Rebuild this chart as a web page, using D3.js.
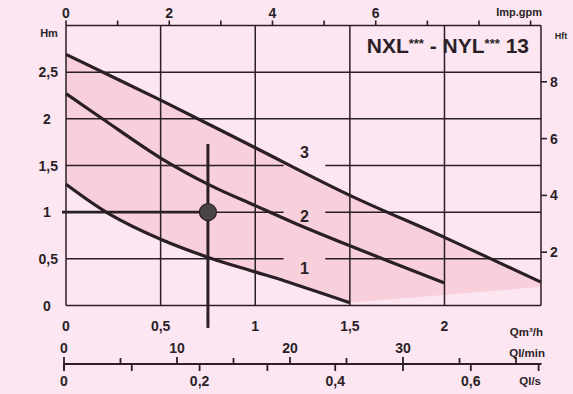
<!DOCTYPE html>
<html>
<head>
<meta charset="utf-8">
<script src="https://cdn.jsdelivr.net/npm/d3@7"></script>
<style>
  html, body { margin: 0; padding: 0; background: #fbe6f1; }
  svg { display: block; }
  text { font-family: "Liberation Sans", Arial, sans-serif; font-weight: bold; fill: #2b1f27; }
</style>
</head>
<body>
<svg id="chart" width="573" height="394"></svg>
<script>
// pump curves, H (m) against Q (m3/h)
const speed3Q = [0, 0.5, 1.0, 1.5, 2.0, 2.51]
const speed3H = [2.69, 2.2, 1.69, 1.18, 0.73, 0.25]
const speed2Q = [0, 0.2, 0.5, 0.76, 1.0, 1.2, 1.5, 2.0]
const speed2H = [2.27, 1.99, 1.58, 1.29, 1.07, 0.89, 0.64, 0.24]
const speed1Q = [0, 0.23, 0.5, 0.76, 1.0, 1.16, 1.5]
const speed1H = [1.30, 0.98, 0.71, 0.51, 0.36, 0.26, 0.03]
// lower edge of the shaded zone right of speed 1
const bandEndQ = [1.5, 2.51]
const bandEndH = [0.03, 0.2]

const speedNames = ['1', '2', '3']
const labelQ = 1.26
const labelH = [0.40, 0.96, 1.64]

// duty point
const dutyQ = 0.75
const dutyH = 1.0

const flowTicks = [0, 0.5, 1, 1.5, 2]
const flowLabels = ['0', '0,5', '1', '1,5', '2']
const headTicks = [0, 0.5, 1, 1.5, 2, 2.5]
const headLabels = ['0', '0,5', '1', '1,5', '2', '2,5']
const gpmTicks = [0, 1, 2, 3, 4, 5, 6, 7, 8, 9]
const gpmLabels = [0, 2, 4, 6]
const ftTicks = [2, 4, 6, 8]
const lpmTicks = [0, 5, 10, 15, 20, 25, 30, 35, 40]
const lpmLabels = [0, 10, 20, 30]
const lpsTicks = [0, 0.1, 0.2, 0.3, 0.4, 0.5, 0.6, 0.7]
const lpsLabels = ['0', '0,2', '0,4', '0,6']
const lpsLabelValues = [0, 0.2, 0.4, 0.6]

const title = 'NXL*** - NYL*** 13'

const M3H_TO_GPM = 3.666
const INK = '#2b1f27'

const svg = d3.select('#chart')
svg.append('rect').attr('width', 573).attr('height', 394).attr('fill', '#fbe6f1')

const qMax = 2.51
const x = d3.scaleLinear().domain([0, qMax]).range([66, 541])
const y = d3.scaleLinear().domain([0, 3]).range([305.5, 25.5])
const xGpm = d3.scaleLinear().domain([0, qMax * M3H_TO_GPM]).range([66, 541])
const yFt = d3.scaleLinear().domain([0, 10]).range([309, 25])
const xLpm = d3.scaleLinear().domain([0, 10]).range([64, 177])

const pts = (qs, hs) => qs.map((q, i) => [q, hs[i]])
const line = d3.line().x(d => x(d[0])).y(d => y(d[1])).curve(d3.curveCatmullRom.alpha(0.5))
const lineLin = d3.line().x(d => x(d[0])).y(d => y(d[1]))

/* --------- shaded zone ---------*/
const upper = pts(speed3Q, speed3H)
const lower = pts(speed1Q, speed1H)
const tail = pts(bandEndQ, bandEndH)
const zone = line(upper) + 'L' + lineLin(tail.slice().reverse()).slice(1) + 'L' + line(lower.slice().reverse()).slice(1) + 'Z'
svg.append('path').attr('d', zone).attr('fill', '#f7d0dc')

/* --------- grid ---------*/
const grid = svg.append('g').attr('stroke', INK).attr('stroke-width', 1.5)
flowTicks.concat([qMax]).forEach(q => {
  grid.append('line').attr('x1', x(q)).attr('x2', x(q)).attr('y1', y(0)).attr('y2', y(3))
})
const gapFrom = 1.15, gapTo = 1.37
headTicks.concat([3]).forEach(h => {
  if (h > 0 && h < 2) {
    grid.append('line').attr('x1', x(0)).attr('x2', x(gapFrom)).attr('y1', y(h)).attr('y2', y(h))
    grid.append('line').attr('x1', x(gapTo)).attr('x2', x(qMax)).attr('y1', y(h)).attr('y2', y(h))
  } else {
    grid.append('line').attr('x1', x(0)).attr('x2', x(qMax)).attr('y1', y(h)).attr('y2', y(h))
  }
})

/* --------- curves ---------*/
const curves = [pts(speed1Q, speed1H), pts(speed2Q, speed2H), pts(speed3Q, speed3H)]
svg.append('g').selectAll('path').data(curves).join('path')
  .attr('d', line)
  .attr('fill', 'none')
  .attr('stroke', INK)
  .attr('stroke-width', 3.2)

svg.append('g').selectAll('text').data(speedNames).join('text')
  .attr('x', x(labelQ))
  .attr('y', (d, i) => y(labelH[i]))
  .attr('dy', '0.36em')
  .attr('text-anchor', 'middle')
  .attr('font-size', 16)
  .text(d => d)

/* --------- duty point ---------*/
svg.append('line').attr('x1', 62).attr('x2', x(dutyQ)).attr('y1', y(dutyH)).attr('y2', y(dutyH))
  .attr('stroke', INK).attr('stroke-width', 2.6)
svg.append('line').attr('x1', x(dutyQ)).attr('x2', x(dutyQ)).attr('y1', y(1.73)).attr('y2', y(-0.24))
  .attr('stroke', INK).attr('stroke-width', 3)
svg.append('circle').attr('cx', x(dutyQ)).attr('cy', y(dutyH)).attr('r', 8.5)
  .attr('fill', '#4a4347').attr('stroke', INK).attr('stroke-width', 1.2)

/* --------- left axis (m) ---------*/
svg.append('g').selectAll('text').data(headTicks).join('text')
  .attr('x', d => Number.isInteger(d) ? 47 : 58)
  .attr('y', d => y(d))
  .attr('dy', '0.36em')
  .attr('text-anchor', d => Number.isInteger(d) ? 'middle' : 'end')
  .attr('font-size', 14)
  .text((d, i) => headLabels[i])
svg.append('text').attr('x', 49).attr('y', 37).attr('text-anchor', 'middle').attr('font-size', 11).text('Hm')

/* --------- right axis (ft) ---------*/
const ftAxis = svg.append('g')
ftAxis.selectAll('line').data(ftTicks).join('line')
  .attr('x1', x(qMax)).attr('x2', x(qMax) + 6)
  .attr('y1', d => yFt(d)).attr('y2', d => yFt(d))
  .attr('stroke', INK).attr('stroke-width', 1.6)
ftAxis.selectAll('text').data(ftTicks).join('text')
  .attr('x', x(qMax) + 9).attr('y', d => yFt(d))
  .attr('dy', '0.36em').attr('font-size', 14)
  .text(d => d)
svg.append('text').attr('x', 561).attr('y', 39).attr('text-anchor', 'middle').attr('font-size', 9).text('Hft')

/* --------- top axis (imp. gpm) ---------*/
const gpmAxis = svg.append('g')
gpmAxis.selectAll('line').data(gpmTicks).join('line')
  .attr('x1', d => xGpm(d)).attr('x2', d => xGpm(d))
  .attr('y1', y(3)).attr('y2', y(3) - 5)
  .attr('stroke', INK).attr('stroke-width', 1.6)
gpmAxis.selectAll('text').data(gpmLabels).join('text')
  .attr('x', d => xGpm(d)).attr('y', 18)
  .attr('text-anchor', 'middle').attr('font-size', 14)
  .text(d => d)
svg.append('text').attr('x', 542).attr('y', 16).attr('text-anchor', 'end').attr('font-size', 11).text('Imp.gpm')

/* --------- title ---------*/
const t = svg.append('text').attr('x', 529).attr('y', 53).attr('text-anchor', 'end').attr('font-size', 21)
let raised = false
title.split(/(\*+)/).forEach(part => {
  if (!part) return
  if (part[0] === '*') {
    t.append('tspan').attr('font-size', 13).attr('dy', -5).text(part)
    raised = true
  } else {
    const sp = t.append('tspan').text(part)
    if (raised) { sp.attr('dy', 5); raised = false }
  }
})

/* --------- bottom axis (m3/h) ---------*/
svg.append('g').selectAll('text').data(flowTicks).join('text')
  .attr('x', d => x(d)).attr('y', 331)
  .attr('text-anchor', 'middle').attr('font-size', 14)
  .text((d, i) => flowLabels[i])
svg.append('text').attr('x', 543).attr('y', 336).attr('text-anchor', 'end').attr('font-size', 11.5)
  .text('Qm³/h')

/* --------- bottom scales (l/min, l/s) ---------*/
const baseY = 364
const lps = v => xLpm(v * 60)
svg.append('line').attr('x1', xLpm(0)).attr('x2', lps(0.7) + 3).attr('y1', baseY).attr('y2', baseY)
  .attr('stroke', INK).attr('stroke-width', 1.8)
svg.append('g').selectAll('line').data(lpmTicks).join('line')
  .attr('x1', d => xLpm(d)).attr('x2', d => xLpm(d))
  .attr('y1', d => d === 0 ? baseY + 6 : baseY)
  .attr('y2', d => baseY - (d % 10 === 0 ? 7 : 6))
  .attr('stroke', INK).attr('stroke-width', 1.8)
svg.append('g').selectAll('line').data(lpsTicks).join('line')
  .attr('x1', d => lps(d)).attr('x2', d => lps(d))
  .attr('y1', baseY).attr('y2', baseY + 7)
  .attr('stroke', INK).attr('stroke-width', 1.8)
svg.append('g').selectAll('text').data(lpmLabels).join('text')
  .attr('x', d => xLpm(d)).attr('y', 353)
  .attr('text-anchor', 'middle').attr('font-size', 14)
  .text(d => d)
svg.append('text').attr('x', 545).attr('y', 357).attr('text-anchor', 'end').attr('font-size', 11.5)
  .text('Ql/min')
svg.append('g').selectAll('text').data(lpsLabelValues).join('text')
  .attr('x', d => lps(d)).attr('y', 386)
  .attr('text-anchor', 'middle').attr('font-size', 14)
  .text((d, i) => lpsLabels[i])
svg.append('text').attr('x', 541).attr('y', 385).attr('text-anchor', 'end').attr('font-size', 11.5)
  .text('Ql/s')
</script>
</body>
</html>
